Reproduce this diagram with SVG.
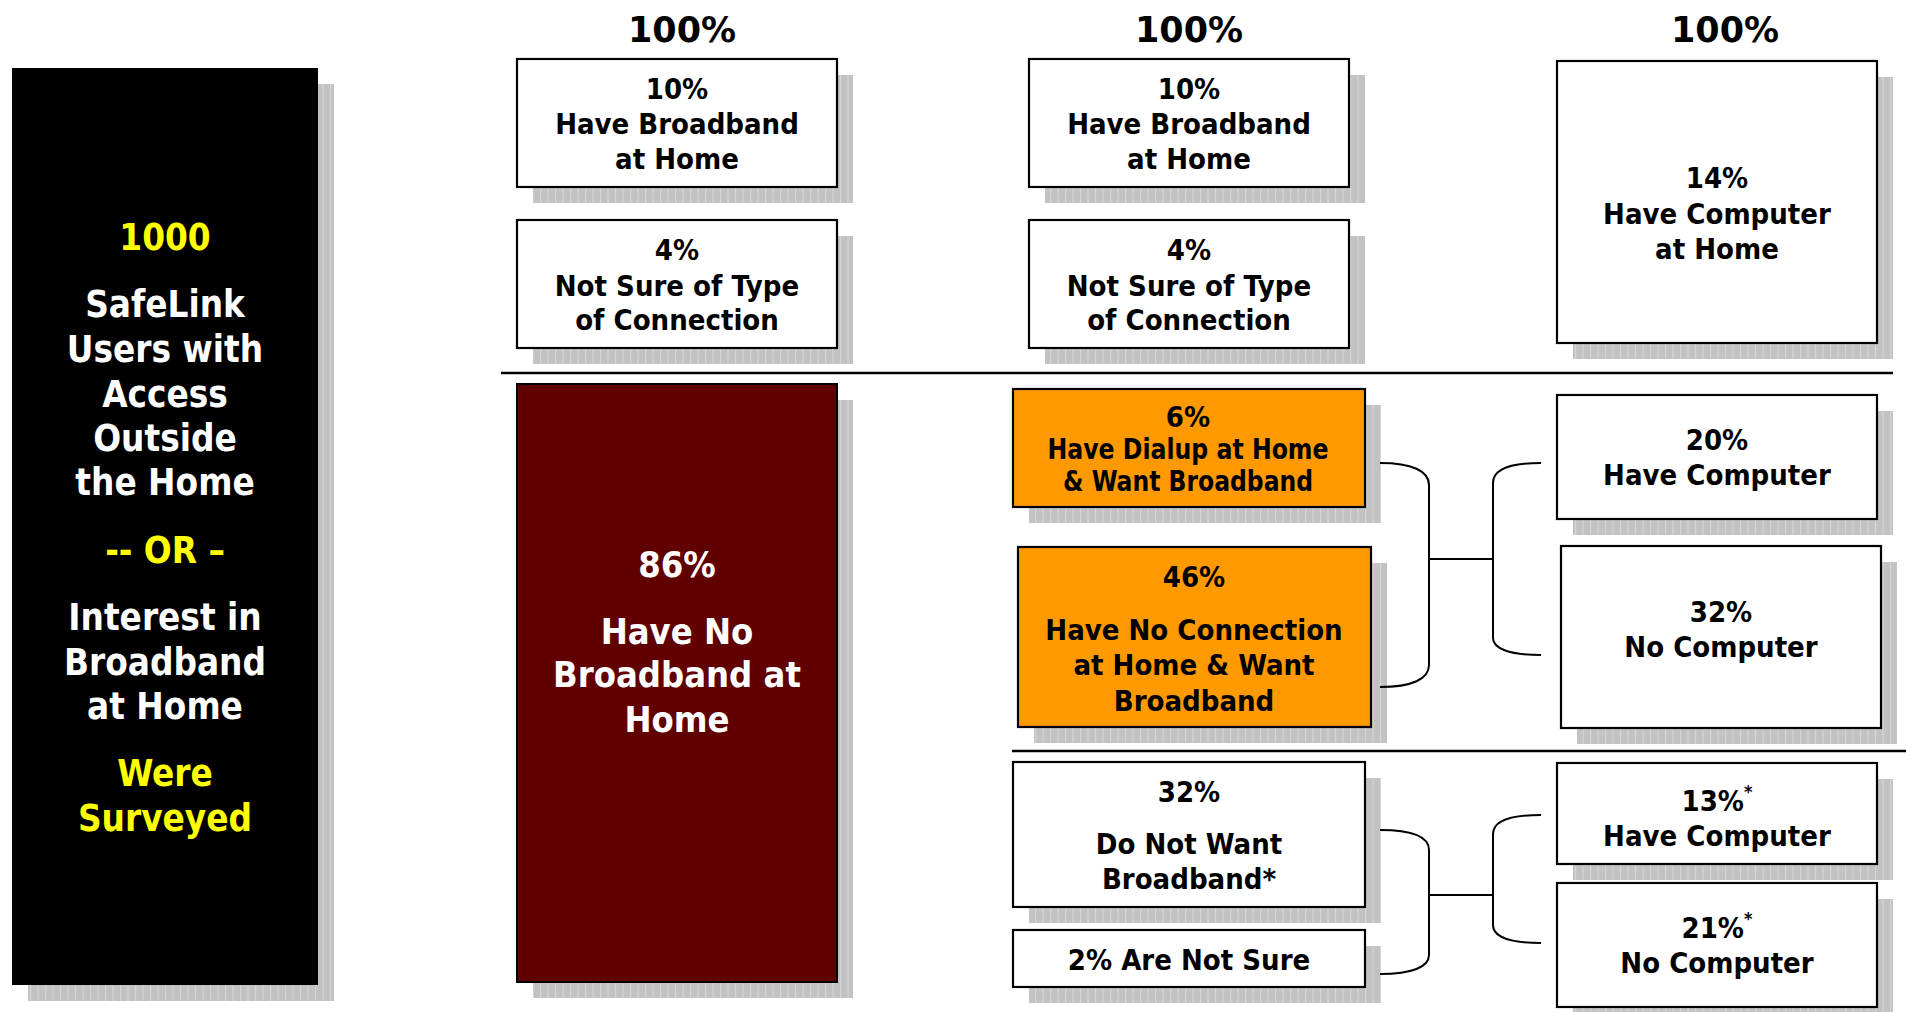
<svg xmlns="http://www.w3.org/2000/svg" width="1906" height="1012" viewBox="0 0 1906 1012">
<defs>
<pattern id="hatch" width="7.5" height="8" patternUnits="userSpaceOnUse">
<rect width="7.5" height="8" fill="#c2c2c2"/>
<rect x="0" width="1.2" height="8" fill="#d6d6d6"/>
</pattern>
<style>
.sh{fill:url(#hatch)}
.bx{fill:#fff;stroke:#000;stroke-width:2.2}
.or{fill:#ff9900;stroke:#000;stroke-width:2.2}
.mr{fill:#600000;stroke:#000;stroke-width:2}
.t{font-family:"DejaVu Sans Condensed","DejaVu Sans",sans-serif;font-stretch:condensed;font-weight:bold;text-anchor:middle;font-size:29px;fill:#000}
.big{font-size:36.5px;fill:#fff}
.mt{font-size:36px;fill:#fff}
.y{fill:#ffff00}
.hd{font-family:"DejaVu Sans",sans-serif;font-weight:bold;text-anchor:middle;font-size:35px;fill:#000}
.ln{stroke:#000;stroke-width:2.5;fill:none}
.br{stroke:#000;stroke-width:2;fill:none}
</style>
</defs>
<rect width="1906" height="1012" fill="#fff"/>

<g id="headings">
<text class="hd" x="682" y="42">100%</text>
<text class="hd" x="1189" y="42">100%</text>
<text class="hd" x="1725" y="42">100%</text>
</g>

<g id="separators">
<line class="ln" x1="501" y1="373" x2="1893" y2="373"/>
<line class="ln" x1="1012" y1="751" x2="1906" y2="751"/>
</g>

<g id="surveyed">
<rect class="sh" x="28" y="84" width="306" height="917"/>
<rect x="12" y="68" width="306" height="917" fill="#000"/>
<text class="t big y" x="165" y="250">1000</text>
<text class="t big" x="165" y="317">SafeLink</text>
<text class="t big" x="165" y="362">Users with</text>
<text class="t big" x="165" y="407">Access</text>
<text class="t big" x="165" y="451">Outside</text>
<text class="t big" x="165" y="495">the Home</text>
<text class="t big y" x="165" y="563">-- OR –</text>
<text class="t big" x="165" y="630">Interest in</text>
<text class="t big" x="165" y="675">Broadband</text>
<text class="t big" x="165" y="719">at Home</text>
<text class="t big y" x="165" y="786">Were</text>
<text class="t big y" x="165" y="831">Surveyed</text>
</g>

<g id="c1-broadband">
<rect class="sh" x="533" y="75" width="320" height="128"/>
<rect class="bx" x="517" y="59" width="320" height="128"/>
<text class="t" x="677" y="99">10%</text>
<text class="t" x="677" y="134">Have Broadband</text>
<text class="t" x="677" y="169">at Home</text>
</g>

<g id="c1-notsure">
<rect class="sh" x="533" y="236" width="320" height="128"/>
<rect class="bx" x="517" y="220" width="320" height="128"/>
<text class="t" x="677" y="260">4%</text>
<text class="t" x="677" y="296">Not Sure of Type</text>
<text class="t" x="677" y="330">of Connection</text>
</g>

<g id="c1-nobroadband">
<rect class="sh" x="533" y="400" width="320" height="598"/>
<rect class="mr" x="517" y="384" width="320" height="598"/>
<text class="t mt" x="677" y="577">86%</text>
<text class="t mt" x="677" y="644">Have No</text>
<text class="t mt" x="677" y="687">Broadband at</text>
<text class="t mt" x="677" y="732">Home</text>
</g>

<g id="c2-broadband">
<rect class="sh" x="1045" y="75" width="320" height="128"/>
<rect class="bx" x="1029" y="59" width="320" height="128"/>
<text class="t" x="1189" y="99">10%</text>
<text class="t" x="1189" y="134">Have Broadband</text>
<text class="t" x="1189" y="169">at Home</text>
</g>

<g id="c2-notsure">
<rect class="sh" x="1045" y="236" width="320" height="128"/>
<rect class="bx" x="1029" y="220" width="320" height="128"/>
<text class="t" x="1189" y="260">4%</text>
<text class="t" x="1189" y="296">Not Sure of Type</text>
<text class="t" x="1189" y="330">of Connection</text>
</g>

<g id="c2-dialup">
<rect class="sh" x="1029" y="405" width="352" height="118"/>
<rect class="or" x="1013" y="389" width="352" height="118"/>
<text class="t" x="1188" y="427">6%</text>
<text class="t" x="1188" y="459" textLength="281" lengthAdjust="spacingAndGlyphs">Have Dialup at Home</text>
<text class="t" x="1188" y="491" textLength="250" lengthAdjust="spacingAndGlyphs">&amp; Want Broadband</text>
</g>

<g id="c2-noconnection">
<rect class="sh" x="1034" y="563" width="353" height="180"/>
<rect class="or" x="1018" y="547" width="353" height="180"/>
<text class="t" x="1194" y="587">46%</text>
<text class="t" x="1194" y="640">Have No Connection</text>
<text class="t" x="1194" y="675">at Home &amp; Want</text>
<text class="t" x="1194" y="711">Broadband</text>
</g>

<g id="c2-donotwant">
<rect class="sh" x="1029" y="778" width="352" height="145"/>
<rect class="bx" x="1013" y="762" width="352" height="145"/>
<text class="t" x="1189" y="802">32%</text>
<text class="t" x="1189" y="854">Do Not Want</text>
<text class="t" x="1189" y="889">Broadband*</text>
</g>

<g id="c2-arenotsure">
<rect class="sh" x="1029" y="946" width="352" height="57"/>
<rect class="bx" x="1013" y="930" width="352" height="57"/>
<text class="t" x="1189" y="970">2% Are Not Sure</text>
</g>

<g id="c3-havecomputer-home">
<rect class="sh" x="1573" y="77" width="320" height="282"/>
<rect class="bx" x="1557" y="61" width="320" height="282"/>
<text class="t" x="1717" y="188">14%</text>
<text class="t" x="1717" y="224">Have Computer</text>
<text class="t" x="1717" y="259">at Home</text>
</g>

<g id="c3-havecomputer-20">
<rect class="sh" x="1573" y="411" width="320" height="124"/>
<rect class="bx" x="1557" y="395" width="320" height="124"/>
<text class="t" x="1717" y="450">20%</text>
<text class="t" x="1717" y="485">Have Computer</text>
</g>

<g id="c3-nocomputer-32">
<rect class="sh" x="1577" y="562" width="320" height="182"/>
<rect class="bx" x="1561" y="546" width="320" height="182"/>
<text class="t" x="1721" y="622">32%</text>
<text class="t" x="1721" y="657">No Computer</text>
</g>

<g id="c3-havecomputer-13">
<rect class="sh" x="1573" y="779" width="320" height="101"/>
<rect class="bx" x="1557" y="763" width="320" height="101"/>
<text class="t" x="1717" y="811">13%<tspan font-size="18" dy="-13">*</tspan></text>
<text class="t" x="1717" y="846">Have Computer</text>
</g>

<g id="c3-nocomputer-21">
<rect class="sh" x="1573" y="899" width="320" height="124"/>
<rect class="bx" x="1557" y="883" width="320" height="124"/>
<text class="t" x="1717" y="938">21%<tspan font-size="18" dy="-13">*</tspan></text>
<text class="t" x="1717" y="973">No Computer</text>
</g>

<g id="connectors">
<path class="br" d="M1380,463 C1412,463 1429,471 1429,485 V665 C1429,679 1412,687 1380,687"/>
<path class="br" d="M1429,559 H1493"/>
<path class="br" d="M1541,463 C1508,463 1493,470 1493,483 V638 C1493,648 1508,655 1541,655"/>
<path class="br" d="M1380,830 C1412,830 1429,837 1429,850 V955 C1429,967 1412,974 1380,974"/>
<path class="br" d="M1429,895 H1493"/>
<path class="br" d="M1541,815 C1508,815 1493,822 1493,834 V925 C1493,936 1508,943 1541,943"/>
</g>
</svg>
